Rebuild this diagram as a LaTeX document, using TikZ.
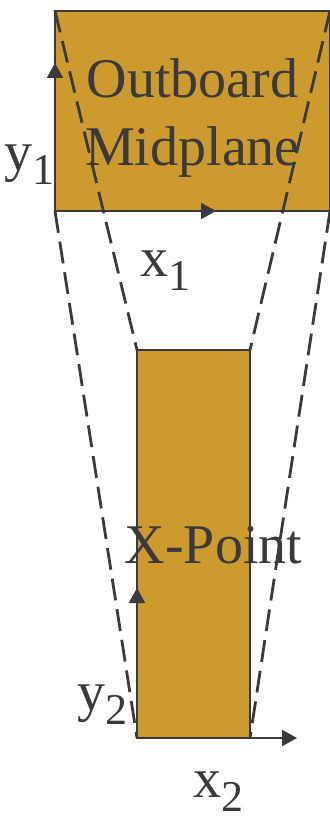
\documentclass[tikz,border=0pt]{standalone}
\usepackage{fontspec}
\setmainfont{Liberation Serif}
\usepackage{tikz}
\usetikzlibrary{arrows.meta}
\usepackage{xcolor}
\definecolor{panelFill}{RGB}{205, 154, 45}
\definecolor{inkGray}{RGB}{58, 57, 62}
\newcommand{\lowidx}[1]{\raisebox{-7pt}{\fontsize{22}{22}\selectfont #1}}

\begin{document}
\begin{tikzpicture}[
  x=0.5pt, y=-0.5pt,
  panel/.style={rectangle, draw=inkGray, fill=panelFill, line width=1.2pt, inner sep=0pt, outer sep=0pt},
  guide/.style={draw=inkGray, line width=1.4pt, dash pattern=on 11pt off 4.5pt},
  axis/.style={-{Triangle[length=7.5pt, width=8pt]}, draw=inkGray, fill=inkGray, line width=1.1pt},
  lbl/.style={inner sep=0pt, text=inkGray, font=\fontsize{28}{34}\selectfont},
  >=Stealth
]
  \useasboundingbox (0,0) rectangle (330,817);

  % Two cross sections
  \node[panel, minimum width=137.5pt, minimum height=100pt] (mid) at (192.5,111) {};
  \node[panel, minimum width=56.5pt, minimum height=194pt] (xpt) at (193.5,544) {};

  % Mapping lines -- corners of the top box to the bottom box
  \draw[guide] (mid.north west) -- (xpt.north west);
  \draw[guide] (mid.north east) -- (xpt.north east);
  \draw[guide] (mid.south west) -- (xpt.south west);
  \draw[guide] (mid.south east) -- (xpt.south east);

  % Local axes
  \coordinate (y1tip) at (55,63);
  \coordinate (x1tip) at (216,211);
  \coordinate (y2tip) at (137,588);
  \coordinate (x2tip) at (297,738);
  \draw[axis] (mid.south west) -- (y1tip);
  \draw[axis] (mid.south west) -- (x1tip);
  \draw[axis] (xpt.south west) -- (y2tip);
  \draw[axis] (xpt.south west) -- (x2tip);

  % Labels
  \node[lbl, align=center, text depth=0pt] (midlbl) at (192.5,112) {Outboard\\Midplane};
  \node[lbl, anchor=base] (xptlbl) at (213.5,563) {X-Point};
  \node[lbl, anchor=base east] (y1lbl) at (55,171) {y\lowidx{1}};
  \node[lbl, anchor=base west] (x1lbl) at (140,277) {x\lowidx{1}};
  \node[lbl, anchor=base west] (y2lbl) at (77,710) {y\lowidx{2}};
  \node[lbl, anchor=base west] (x2lbl) at (193,797) {x\lowidx{2}};
\end{tikzpicture}
\end{document}
